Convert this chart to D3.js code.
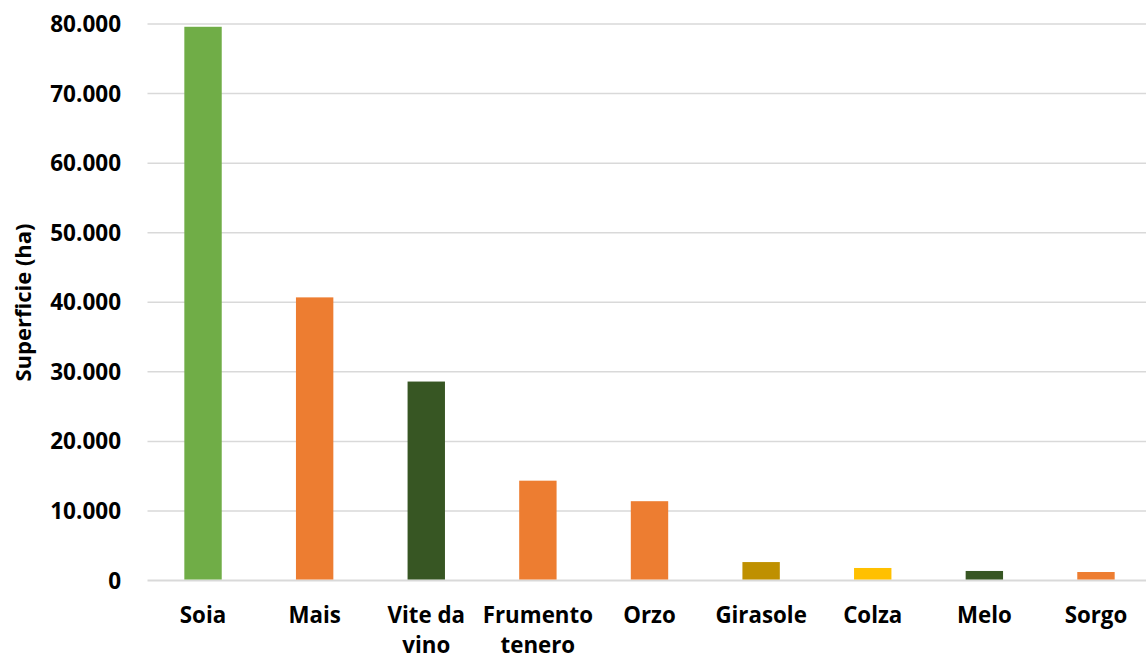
<html>
<head>
<script src="https://d3js.org/d3.v7.min.js"></script>
<style>
  body { margin: 0; background: #fff; font-family: 'Open Sans', Lato, sans-serif; }
  text { font-weight: bold; fill: #000; }
</style>
</head>
<body>
<div id="chart"></div>
<script>
const categories = ["Soia", "Mais", "Vite da vino", "Frumento tenero", "Orzo", "Girasole", "Colza", "Melo", "Sorgo"]
const values = [79600, 40700, 28600, 14350, 11400, 2650, 1800, 1370, 1220]
const colors = ["#70AD47", "#ED7D31", "#375623", "#ED7D31", "#ED7D31", "#BF9000", "#FFC000", "#375623", "#ED7D31"]
const labelLines = [["Soia"], ["Mais"], ["Vite da", "vino"], ["Frumento", "tenero"], ["Orzo"], ["Girasole"], ["Colza"], ["Melo"], ["Sorgo"]]
const yTicks = [0, 10000, 20000, 30000, 40000, 50000, 60000, 70000, 80000]

const W = 1146, H = 658
const m = {left: 147.5, right: 1151.5, top: 24, bottom: 580.5}

const svg = d3.select("#chart").append("svg")
  .attr("width", W).attr("height", H)

const x = d3.scaleBand().domain(categories).range([m.left, m.right]).paddingInner(0.665).paddingOuter(0.33)
const y = d3.scaleLinear().domain([0, 80000]).range([m.bottom, m.top])

const fmt = d => d === 0 ? "0" : d3.format(",")(d).replace(/,/g, ".")

// gridlines
svg.append("g").selectAll("line").data(yTicks).join("line")
  .attr("x1", m.left).attr("x2", m.right)
  .attr("y1", d => y(d)).attr("y2", d => y(d))
  .attr("stroke", "#d9d9d9")
  .attr("stroke-width", d => d === 0 ? 2 : 1.5)

// y tick labels
svg.append("g").selectAll("text").data(yTicks).join("text")
  .attr("x", 121).attr("y", d => y(d))
  .attr("dy", "0.36em")
  .attr("text-anchor", "end")
  .style("font-size", "22.5px")
  .text(fmt)

// bars
svg.append("g").selectAll("rect").data(values).join("rect")
  .attr("x", (d, i) => x(categories[i]))
  .attr("width", x.bandwidth())
  .attr("y", d => y(d))
  .attr("height", d => m.bottom - 1 - y(d))
  .attr("fill", (d, i) => colors[i])

// x labels
const xl = svg.append("g").selectAll("text").data(categories).join("text")
  .attr("text-anchor", "middle")
  .attr("x", d => x(d) + x.bandwidth() / 2)
  .attr("y", 623)
  .style("font-size", "22.3px")
xl.each(function(d, i) {
  d3.select(this).selectAll("tspan").data(labelLines[i]).join("tspan")
    .attr("x", x(d) + x.bandwidth() / 2)
    .attr("dy", (t, j) => j === 0 ? 0 : 29.5)
    .text(t => t)
})

// y title
svg.append("text")
  .attr("transform", `translate(31, ${(223 + 382) / 2}) rotate(-90)`)
  .attr("text-anchor", "middle")
  .style("font-size", "22px")
  .text("Superficie (ha)")
</script>
</body>
</html>
